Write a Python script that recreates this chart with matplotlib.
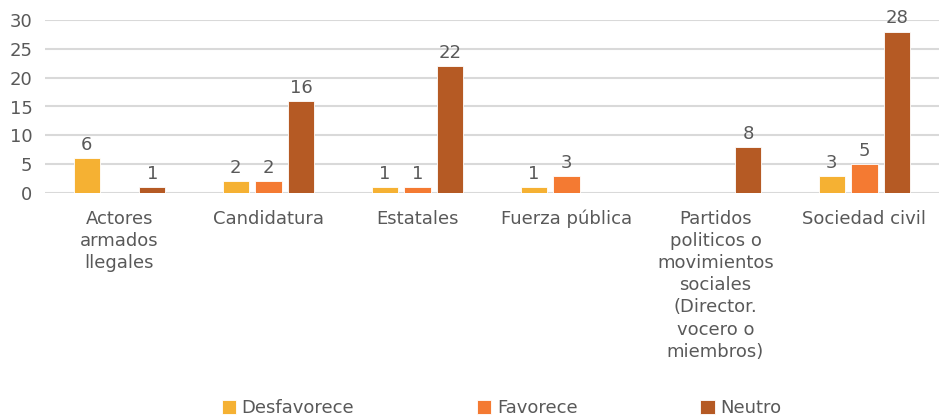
import numpy as np
import matplotlib.pyplot as plt

categories = ["Actores\narmados\nllegales", "Candidatura", "Estatales", "Fuerza pública",
              "Partidos\npoliticos o\nmovimientos\nsociales\n(Director.\nvocero o\nmiembros)",
              "Sociedad civil"]
desfavorece = [6, 2, 1, 1, np.nan, 3]
favorece = [np.nan, 2, 1, 3, np.nan, 5]
neutro = [1, 16, 22, np.nan, 8, 28]

series = [("Desfavorece", desfavorece, "#F5B133"),
          ("Favorece", favorece, "#F47A32"),
          ("Neutro", neutro, "#B55A24")]

plt.rcParams['font.family'] = ['DejaVu Sans']
txt = "#595959"

fig = plt.figure(figsize=(9.39, 4.19), dpi=100)
ax = fig.add_axes([45/939, 1-193/419, 1-45/939, 173/419])

x = np.arange(len(categories))
w = 0.175
offsets = [-0.22, 0, 0.22]
for (name, vals, col), off in zip(series, offsets):
    bars = ax.bar(x + off, vals, w, color=col, edgecolor="white", linewidth=0.6, label=name, zorder=3)
    labels = ["" if np.isnan(v) else f"{v:g}" for v in vals]
    ax.bar_label(bars, labels=labels, padding=3, fontsize=13, color=txt)

ax.set_xlim(-0.5, len(categories) - 0.5)
ax.set_ylim(0, 30)
ax.set_yticks(range(0, 31, 5))
ax.set_xticks(x)
ax.set_xticklabels(categories, linespacing=1.3)
ax.tick_params(length=0, labelsize=13, labelcolor=txt)
ax.tick_params(axis='x', pad=12)
ax.tick_params(axis='y', pad=9)
ax.grid(axis='y', color="#d9d9d9", linewidth=1.5, zorder=0)
for s in ax.spines.values():
    s.set_visible(False)

fig.legend(loc="lower center", bbox_to_anchor=(0.534, -0.035), ncol=3, frameon=False,
           fontsize=13, labelcolor=txt, handlelength=0.8, handleheight=0.8,
           handletextpad=0.3, columnspacing=6.8)

fig.savefig("out.png", dpi=100)
